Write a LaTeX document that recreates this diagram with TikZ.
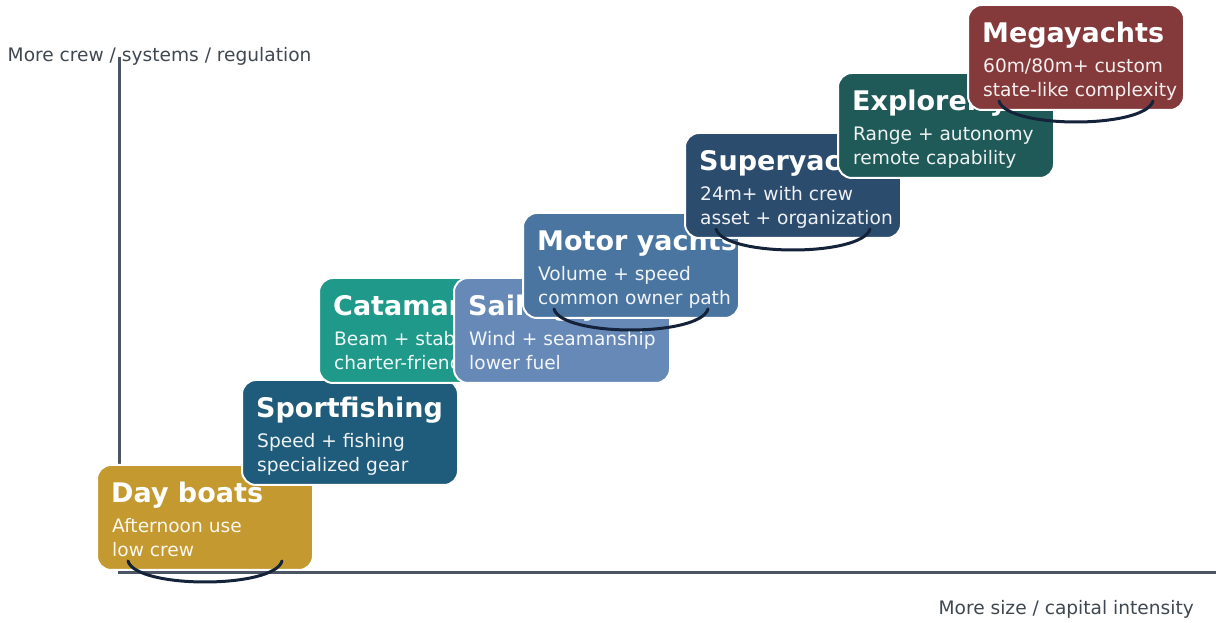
\documentclass[tikz,border=0pt]{standalone}
\usepackage{fontspec}
\setmainfont{DejaVu Sans}

\definecolor{dayboat}{HTML}{C49A30}
\definecolor{sportfish}{HTML}{1F5B7A}
\definecolor{catamaran}{HTML}{1F9A8A}
\definecolor{sailing}{HTML}{6689B7}
\definecolor{motoryacht}{HTML}{4A75A0}
\definecolor{superyacht}{HTML}{2C4C6E}
\definecolor{explorer}{HTML}{1F5A58}
\definecolor{megayacht}{HTML}{843A3B}
\definecolor{swingline}{HTML}{14223A}
\definecolor{axisgray}{HTML}{4B5563}
\definecolor{labelgray}{HTML}{3F4750}

\begin{document}
\begin{tikzpicture}[
    x=1pt, y=1pt,
    levelbox/.style={rectangle, rounded corners=14pt, draw=white, line width=2pt,
                     minimum width=216pt, minimum height=105pt, anchor=north west},
    headline/.style={anchor=base west, inner sep=0pt, text=white,
                     font=\fontsize{27}{32}\selectfont\bfseries},
    note/.style={anchor=base west, inner sep=0pt, align=left, text=white, text opacity=0.92,
                 font=\fontsize{18.6}{24}\selectfont},
    swing/.style={draw=swingline, line width=3pt, line cap=round},
    axisline/.style={draw=axisgray, line width=3pt},
    axistext/.style={inner sep=0pt, text=labelgray, font=\fontsize{18.6}{22}\selectfont},
]
\useasboundingbox (0,0) rectangle (1216,623);

% axes
\coordinate (origin) at (119,50);
\coordinate (ytop) at (119,566);
\coordinate (xend) at (1216,50);
\draw[axisline] (ytop) -- (origin) -- (xend);
\node[axistext, anchor=base west] (ylabel) at (7.5,561.3) {More crew / systems / regulation};
\node[axistext, anchor=base east] (xlabel) at (1194,8.7) {More size / capital intensity};

% day boats
\node[levelbox, fill=dayboat] (day) at (96,159) {};
\node[headline] (day head) at ([shift={(15,-39)}]day.north west) {Day boats};
\node[note] (day note) at ([shift={(16,-92.5)}]day.north west) {Afternoon use\\low crew};
\draw[swing] ([shift={(32,10)}]day.south west) .. controls +(8,-28) and +(-8,-28) .. ([shift={(186,10)}]day.south west);

% sportfishing
\node[levelbox, fill=sportfish] (sport) at (241,244) {};
\node[headline] (sport head) at ([shift={(15,-39)}]sport.north west) {Sportfishing};
\node[note] (sport note) at ([shift={(16,-92.5)}]sport.north west) {Speed + fishing\\specialized gear};

% catamarans
\node[levelbox, fill=catamaran] (cat) at (318,346) {};
\node[headline] (cat head) at ([shift={(15,-39)}]cat.north west) {Catamarans};
\node[note] (cat note) at ([shift={(16,-92.5)}]cat.north west) {Beam + stability\\charter-friendly};

% sailing yachts
\node[levelbox, fill=sailing] (sail) at (453,346) {};
\node[headline] (sail head) at ([shift={(15,-39)}]sail.north west) {Sailing yachts};
\node[note] (sail note) at ([shift={(16,-92.5)}]sail.north west) {Wind + seamanship\\lower fuel};

% motor yachts
\node[levelbox, fill=motoryacht] (motor) at (522,411) {};
\node[headline] (motor head) at ([shift={(15,-39)}]motor.north west) {Motor yachts};
\node[note] (motor note) at ([shift={(16,-92.5)}]motor.north west) {Volume + speed\\common owner path};
\draw[swing] ([shift={(32,10)}]motor.south west) .. controls +(8,-28) and +(-8,-28) .. ([shift={(186,10)}]motor.south west);

% superyachts
\node[levelbox, fill=superyacht] (super) at (684,491) {};
\node[headline] (super head) at ([shift={(15,-39)}]super.north west) {Superyachts};
\node[note] (super note) at ([shift={(16,-92.5)}]super.north west) {24m+ with crew\\asset + organization};
\draw[swing] ([shift={(32,10)}]super.south west) .. controls +(8,-28) and +(-8,-28) .. ([shift={(186,10)}]super.south west);

% explorer yachts
\node[levelbox, fill=explorer] (explorer) at (837,551) {};
\node[headline] (explorer head) at ([shift={(15,-39)}]explorer.north west) {Explorer yachts};
\node[note] (explorer note) at ([shift={(16,-92.5)}]explorer.north west) {Range + autonomy\\remote capability};

% megayachts
\node[levelbox, fill=megayacht] (mega) at (967,619) {};
\node[headline] (mega head) at ([shift={(15,-39)}]mega.north west) {Megayachts};
\node[note] (mega note) at ([shift={(16,-92.5)}]mega.north west) {60m/80m+ custom\\state-like complexity};
\draw[swing] ([shift={(32,10)}]mega.south west) .. controls +(8,-28) and +(-8,-28) .. ([shift={(186,10)}]mega.south west);

\end{tikzpicture}
\end{document}
